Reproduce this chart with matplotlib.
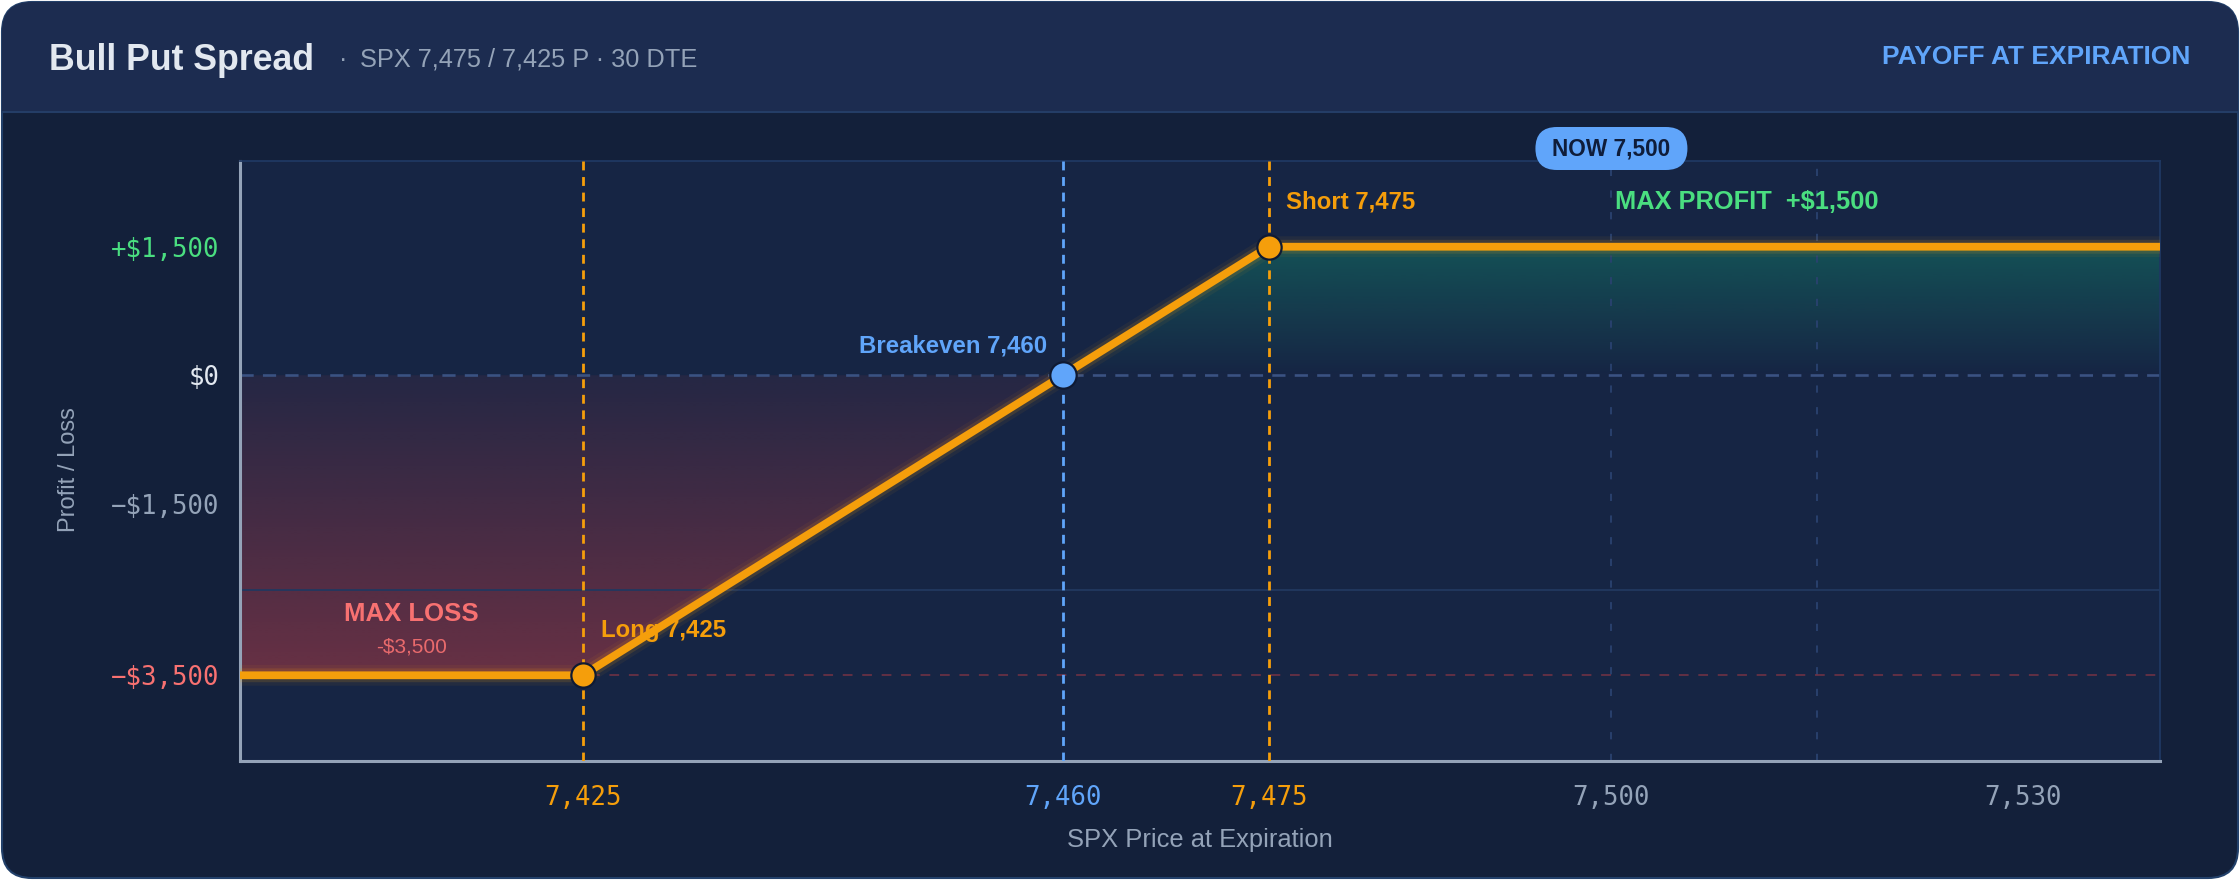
import matplotlib
matplotlib.use("Agg")
import matplotlib.pyplot as plt
import numpy as np
from matplotlib.patches import FancyBboxPatch, Rectangle, Polygon
import matplotlib.patheffects as pe
from matplotlib.colors import to_rgb

plt.rcParams['font.family'] = ['Liberation Sans', 'DejaVu Sans']

# ---------------- data ----------------
price_points = [7400, 7425, 7475, 7540]
pnl_points = [-3500, -3500, 1500, 1500]
long_strike = 7425
short_strike = 7475
breakeven = 7460
spot = 7500
max_profit = 1500
max_loss = -3500
x_limits = [7400, 7540]
y_limits = [-4500, 2500]
x_ticks = [7425, 7460, 7475, 7500, 7530]
x_tick_labels = ["7,425", "7,460", "7,475", "7,500", "7,530"]
y_ticks = [1500, 0, -1500, -3500]
y_tick_labels = ["+$1,500", "$0", "\u2212$1,500", "\u2212$3,500"]
grid_x = [7500, 7515]
grid_y = [-2500]

# ---------------- colours ----------------
ORANGE = '#f59e0b'
BLUE = '#60a5fa'
GREEN = '#4ade80'
RED = '#f87171'
GRAY = '#94a3b8'
WHITE = '#e2e8f0'
CARD = '#13203a'
HEADER = '#1c2c50'
PLOT_BG = '#162544'

x_tick_colors = [ORANGE, BLUE, ORANGE, GRAY, GRAY]
y_tick_colors = [GREEN, WHITE, GRAY, RED]

W, H = 2240, 880
fig = plt.figure(figsize=(W / 100, H / 100), dpi=100, facecolor='white')

# background / card in pixel coordinates
bg = fig.add_axes([0, 0, 1, 1])
bg.set_xlim(0, W)
bg.set_ylim(H, 0)
bg.axis('off')
card = FancyBboxPatch((2, 2), W - 4, H - 4, boxstyle='round,pad=0,rounding_size=30',
                      fc=CARD, ec='#22406a', lw=1.5, zorder=0)
bg.add_patch(card)
header = Rectangle((2, 2), W - 4, 110, fc=HEADER, ec='none', zorder=1)
bg.add_patch(header)
header.set_clip_path(card)
bg.plot([3, W - 3], [112, 112], color='#243d66', lw=1.5, zorder=2)

bg.text(49, 70, 'Bull Put Spread', fontsize=25.7, weight='bold', color=WHITE,
        ha='left', va='baseline', zorder=3)
bg.text(339, 67, '\u00b7', fontsize=18.3, color=GRAY, ha='left', va='baseline', zorder=3)
bg.text(360, 67, 'SPX 7,475 / 7,425 P \u00b7 30 DTE', fontsize=18.3, color=GRAY,
        ha='left', va='baseline', zorder=3)
bg.text(2190, 64, 'PAYOFF AT EXPIRATION', fontsize=19, weight='bold', color=BLUE,
        ha='right', va='baseline', zorder=3)

bg.text(1200, 840, 'SPX Price at Expiration', fontsize=18.4, color=GRAY,
        ha='center', va='center', zorder=3)
bg.text(69, 470, 'Profit / Loss', fontsize=17, color=GRAY, rotation=90,
        ha='center', va='center', zorder=3)

# ---------------- main axes ----------------
ax = fig.add_axes([240 / W, (H - 761) / H, 1920 / W, 600 / H])
ax.set_facecolor(PLOT_BG)


def gradient_fill(ax, verts, color, y0, y1, a0, a1):
    poly = Polygon(verts, closed=True, fc='none', ec='none')
    ax.add_patch(poly)
    n = 256
    rgb = to_rgb(color)
    arr = np.zeros((n, 1, 4))
    arr[:, 0, 0:3] = rgb
    arr[:, 0, 3] = np.linspace(a0, a1, n)
    xs = [v[0] for v in verts]
    im = ax.imshow(arr, extent=[min(xs), max(xs), y0, y1], origin='lower',
                   aspect='auto', zorder=1, interpolation='bilinear')
    im.set_clip_path(poly)


red_verts = [(x_limits[0], 0)] + [(p, v) for p, v in zip(price_points, pnl_points) if p < breakeven] + [(breakeven, 0)]
green_verts = [(breakeven, 0)] + [(p, v) for p, v in zip(price_points, pnl_points) if p > breakeven] + [(x_limits[1], 0)]
gradient_fill(ax, red_verts, '#ef4444', max_loss, 0, 0.38, 0.07)
gradient_fill(ax, green_verts, '#10b981', 0, max_profit, 0.0, 0.30)

# grid & reference lines
for gx in grid_x:
    ax.axvline(gx, color='#2a4270', lw=1.3, ls=(0, (4, 8)), zorder=1.5)
for gy in grid_y:
    ax.axhline(gy, color='#22385f', lw=1.3, zorder=1.5)
ax.axhline(0, color='#3a5282', lw=1.9, ls=(0, (5, 3.5)), zorder=2)
ax.axhline(max_loss, color='#ef4444', alpha=0.35, lw=1.4, ls=(0, (5, 5)), zorder=2)
ax.axvline(long_strike, color=ORANGE, lw=2.0, ls=(0, (3.2, 2.4)), zorder=3)
ax.axvline(short_strike, color=ORANGE, lw=2.0, ls=(0, (3.2, 2.4)), zorder=3)
ax.axvline(breakeven, color=BLUE, lw=2.0, ls=(0, (3.2, 2.4)), zorder=3)

# payoff line
ax.plot(price_points, pnl_points, color=ORANGE, lw=5.6, solid_capstyle='butt',
        solid_joinstyle='round', zorder=5,
        path_effects=[pe.Stroke(linewidth=15, foreground=ORANGE, alpha=0.06),
                      pe.Stroke(linewidth=10, foreground=ORANGE, alpha=0.14),
                      pe.Normal()])
ax.plot([long_strike, short_strike], [max_loss, max_profit], 'o', ms=17.5,
        mfc=ORANGE, mec='#0f1a33', mew=1.6, zorder=6)
ax.plot([breakeven], [0], 'o', ms=19, mfc=BLUE, mec='#0f1a33', mew=1.6, zorder=6)

ax.set_xlim(*x_limits)
ax.set_ylim(*y_limits)

ax.set_xticks(x_ticks)
ax.set_xticklabels(x_tick_labels, fontfamily='DejaVu Sans Mono', fontsize=18.5)
for lbl, c in zip(ax.get_xticklabels(), x_tick_colors):
    lbl.set_color(c)
ax.set_yticks(y_ticks)
ax.set_yticklabels(y_tick_labels, fontfamily='DejaVu Sans Mono', fontsize=18.5)
for lbl, c in zip(ax.get_yticklabels(), y_tick_colors):
    lbl.set_color(c)
ax.tick_params(axis='x', length=0, pad=17)
ax.tick_params(axis='y', length=0, pad=15)

for s in ['left', 'bottom']:
    ax.spines[s].set_color(GRAY)
    ax.spines[s].set_linewidth(2.2)
for s in ['top', 'right']:
    ax.spines[s].set_color('#1f3862')
    ax.spines[s].set_linewidth(1.3)

# annotations
ax.annotate('Short 7,475', xy=(short_strike, max_profit), xytext=(17, 45),
            textcoords='offset pixels', ha='left', va='center', fontsize=17.3,
            weight='bold', color=ORANGE, zorder=7)
ax.annotate('MAX PROFIT  +$1,500', xy=(spot, max_profit), xytext=(4, 45),
            textcoords='offset pixels', ha='left', va='center', fontsize=18.3,
            weight='bold', color=GREEN, zorder=7)
ax.annotate('Breakeven 7,460', xy=(breakeven, 0), xytext=(-16, 29),
            textcoords='offset pixels', ha='right', va='center', fontsize=17.3,
            weight='bold', color=BLUE, zorder=7)
ax.annotate('Long 7,425', xy=(long_strike, max_loss), xytext=(18, 45),
            textcoords='offset pixels', ha='left', va='center', fontsize=17.3,
            weight='bold', color=ORANGE, zorder=7)
loss_x = (x_limits[0] + long_strike) / 2
ax.annotate('MAX LOSS', xy=(loss_x, max_loss), xytext=(0, 61),
            textcoords='offset pixels', ha='center', va='center', fontsize=18.5,
            weight='bold', color=RED, zorder=7)
ax.annotate('-$3,500', xy=(loss_x, max_loss), xytext=(0, 28),
            textcoords='offset pixels', ha='center', va='center', fontsize=15,
            color=RED, alpha=0.9, zorder=7)

# overlay (pixel space) for the NOW pill, on top of the plot area
ov = fig.add_axes([0, 0, 1, 1], zorder=10)
ov.set_xlim(0, W)
ov.set_ylim(H, 0)
ov.axis('off')
ov.patch.set_alpha(0)
cx = ax.transData.transform((spot, 0))[0]
pill = FancyBboxPatch((cx - 76, 127), 152, 43, boxstyle='round,pad=0,rounding_size=21.5',
                      fc=BLUE, ec='none', zorder=4)
ov.add_patch(pill)
ov.text(cx, 149, 'NOW 7,500', fontsize=16.3, weight='bold', color='#0f1d3a',
        ha='center', va='center', zorder=5)

fig.savefig('out.png', dpi=100, facecolor='white')
